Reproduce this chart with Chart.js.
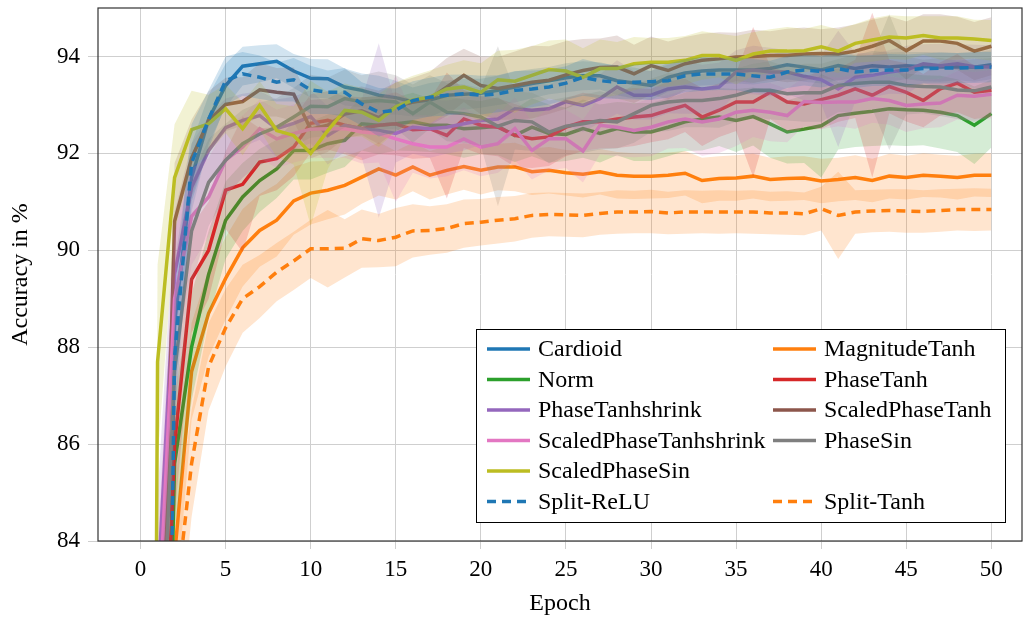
<!DOCTYPE html>
<html>
<head>
<meta charset="utf-8">
<script src="https://cdn.jsdelivr.net/npm/chart.js@4.4.0/dist/chart.umd.min.js"></script>
<style>
  html, body { margin: 0; padding: 0; background: #fff; }
</style>
</head>
<body>
<canvas id="accuracyChart" width="1027" height="620"></canvas>
<script>
const epochs = [
  0, 1, 2, 3, 4, 5, 6, 7, 8, 9, 10,
  11, 12, 13, 14, 15, 16, 17, 18, 19, 20,
  21, 22, 23, 24, 25, 26, 27, 28, 29, 30,
  31, 32, 33, 34, 35, 36, 37, 38, 39, 40,
  41, 42, 43, 44, 45, 46, 47, 48, 49, 50,
];

const cardioid = [
  30, 66, 88.5, 91.5, 92.7, 93.4, 93.8, 93.85, 93.9, 93.7, 93.55,
  93.54, 93.37, 93.3, 93.2, 93.15, 93.06, 93.1, 93.2, 93.22, 93.24,
  93.3, 93.37, 93.44, 93.5, 93.56, 93.6, 93.6, 93.5, 93.45, 93.4,
  93.57, 93.66, 93.7, 93.72, 93.72, 93.72, 93.75, 93.83, 93.78, 93.72,
  93.81, 93.75, 93.81, 93.78, 93.81, 93.79, 93.78, 93.79, 93.78, 93.83,
];
const cardioidStd = [
  0, 2, 1.2, 0.7, 0.5, 0.45, 0.4, 0.38, 0.35, 0.35, 0.4,
  0.4, 0.38, 0.35, 0.4, 0.35, 0.3, 0.35, 0.3, 0.32, 0.3,
  0.3, 0.32, 0.3, 0.28, 0.3, 0.3, 0.28, 0.3, 0.32, 0.3,
  0.3, 0.28, 0.3, 0.3, 0.28, 0.3, 0.28, 0.3, 0.3, 0.28,
  0.3, 0.28, 0.3, 0.3, 0.28, 0.3, 0.3, 0.28, 0.3, 0.3,
];

const magnitudeTanh = [
  18, 68, 83.7, 87.5, 88.7, 89.42, 90.05, 90.41, 90.62, 91.02, 91.18,
  91.24, 91.34, 91.51, 91.68, 91.55, 91.72, 91.55, 91.65, 91.73, 91.65,
  91.72, 91.72, 91.62, 91.65, 91.6, 91.57, 91.62, 91.55, 91.53, 91.53,
  91.55, 91.59, 91.44, 91.48, 91.49, 91.53, 91.46, 91.48, 91.49, 91.43,
  91.46, 91.5, 91.44, 91.53, 91.5, 91.55, 91.53, 91.5, 91.55, 91.55,
];
const magnitudeTanhStd = [
  0, 2, 1.3, 1.0, 0.9, 0.85, 0.8, 0.75, 0.75, 0.7, 0.65,
  0.6, 0.6, 0.55, 0.55, 0.5, 0.5, 0.5, 0.5, 0.48, 0.5,
  0.48, 0.5, 0.48, 0.48, 0.47, 0.48, 0.47, 0.48, 0.47, 0.46,
  0.47, 0.46, 0.47, 0.46, 0.47, 0.46, 0.45, 0.46, 0.45, 0.46,
  0.45, 0.46, 0.45, 0.46, 0.45, 0.45, 0.44, 0.45, 0.44, 0.45,
];

const norm = [
  20, 70, 85.6, 88.0, 89.5, 90.62, 91.1, 91.44, 91.68, 92.06, 92.06,
  92.2, 92.27, 92.61, 92.58, 92.61, 92.65, 92.58, 92.58, 92.51, 92.53,
  92.56, 92.37, 92.54, 92.41, 92.39, 92.51, 92.41, 92.51, 92.44, 92.44,
  92.54, 92.65, 92.71, 92.75, 92.68, 92.76, 92.61, 92.44, 92.5, 92.57,
  92.78, 92.83, 92.87, 92.92, 92.9, 92.89, 92.85, 92.78, 92.58, 92.82,
];
const normStd = [
  0, 2, 1.4, 1.1, 0.9, 0.8, 0.7, 0.65, 0.6, 0.6, 0.6,
  0.6, 0.55, 0.55, 0.6, 0.55, 0.6, 0.55, 0.6, 0.6, 0.55,
  0.6, 0.55, 0.6, 0.6, 0.55, 0.6, 0.6, 0.55, 0.6, 0.6,
  0.6, 0.6, 0.65, 0.6, 0.65, 0.6, 0.7, 0.65, 0.7, 1.07,
  0.7, 0.7, 0.72, 0.75, 0.75, 0.72, 0.75, 0.75, 0.8, 0.7,
];

const phaseTanh = [
  23, 77.3, 86, 89.4, 90.0, 91.24, 91.36, 91.82, 91.89, 92.13, 92.62,
  92.68, 92.58, 92.51, 92.58, 92.61, 92.49, 92.51, 92.37, 92.71, 92.58,
  92.54, 92.37, 92.3, 92.34, 92.54, 92.65, 92.65, 92.71, 92.75, 92.78,
  92.89, 92.99, 92.75, 92.89, 93.06, 93.06, 93.26, 93.06, 93.02, 93.11,
  93.2, 93.33, 93.2, 93.38, 93.26, 93.09, 93.33, 93.45, 93.26, 93.3,
];
const phaseTanhStd = [
  0, 2, 1.5, 1.1, 1.0, 0.8, 1.4, 0.7, 0.65, 0.6, 0.6,
  0.6, 0.6, 0.65, 0.6, 0.65, 0.6, 0.6, 1.3, 0.6, 0.6,
  0.6, 0.65, 0.6, 0.6, 0.6, 0.6, 0.55, 0.6, 0.6, 0.55,
  0.6, 0.55, 0.6, 0.55, 0.6, 1.55, 0.55, 0.6, 0.55, 0.6,
  0.55, 0.6, 1.7, 0.55, 0.6, 0.55, 0.55, 0.6, 0.55, 0.55,
];

const phaseTanhshrink = [
  28, 82.9, 89.5, 91.3, 92.06, 92.53, 92.68, 92.78, 92.51, 92.62, 92.76,
  92.37, 92.58, 92.51, 92.47, 92.41, 92.54, 92.51, 92.54, 92.61, 92.68,
  92.71, 92.92, 92.89, 92.92, 93.07, 92.99, 93.13, 93.37, 93.2, 93.2,
  93.33, 93.37, 93.33, 93.37, 93.68, 93.72, 93.68, 93.68, 93.59, 93.52,
  93.33, 93.57, 93.61, 93.68, 93.72, 93.85, 93.81, 93.85, 93.79, 93.78,
];
const phaseTanhshrinkStd = [
  0, 2, 1.3, 0.9, 0.7, 0.6, 0.55, 0.5, 0.6, 0.55, 0.55,
  0.6, 0.55, 0.6, 1.8, 0.6, 0.55, 0.6, 0.55, 0.55, 0.5,
  0.55, 0.5, 0.55, 0.5, 0.5, 0.55, 0.5, 0.55, 0.5, 0.5,
  0.5, 0.55, 0.5, 0.5, 0.45, 0.5, 0.5, 0.45, 0.5, 0.5,
  1.2, 0.5, 0.45, 0.45, 0.5, 0.4, 0.45, 0.4, 0.45, 0.45,
];

const scaledPhaseTanh = [
  22, 78, 90.6, 91.9, 92.68, 93.01, 93.07, 93.31, 93.26, 93.22, 92.5,
  92.58, 92.81, 92.88, 92.74, 92.96, 93.06, 93.13, 93.37, 93.61, 93.4,
  93.34, 93.4, 93.47, 93.51, 93.62, 93.71, 93.77, 93.78, 93.64, 93.81,
  93.71, 93.85, 93.92, 93.95, 93.99, 94.0, 94.02, 94.02, 94.05, 94.06,
  94.05, 94.11, 94.21, 94.33, 94.12, 94.32, 94.32, 94.27, 94.11, 94.21,
];
const scaledPhaseTanhStd = [
  0, 2, 1.2, 0.8, 0.6, 0.55, 0.5, 0.55, 0.5, 0.55, 0.6,
  0.55, 0.5, 0.5, 0.55, 0.5, 0.5, 0.55, 0.6, 0.55, 0.6,
  0.65, 0.7, 0.75, 0.7, 0.7, 0.65, 0.6, 0.65, 0.6, 0.6,
  0.6, 0.55, 0.55, 0.55, 0.5, 0.55, 0.5, 0.55, 0.55, 0.5,
  0.55, 0.55, 0.55, 0.5, 0.6, 0.55, 0.55, 0.55, 0.6, 0.6,
];

const scaledPhaseTanhshrink = [
  27, 81.9, 89.0, 90.7, 91.1, 91.86, 92.13, 92.51, 92.3, 92.41, 92.5,
  92.51, 92.51, 92.44, 92.41, 92.3, 92.2, 92.13, 92.13, 92.3, 92.13,
  92.2, 92.51, 92.06, 92.3, 92.3, 92.05, 92.58, 92.54, 92.47, 92.54,
  92.65, 92.71, 92.65, 92.71, 92.85, 92.89, 92.85, 92.78, 93.07, 93.05,
  93.06, 93.06, 93.13, 93.09, 92.99, 93.02, 93.04, 93.2, 93.18, 93.22,
];
const scaledPhaseTanhshrinkStd = [
  0, 2, 1.4, 1.0, 0.8, 0.7, 0.65, 0.6, 0.6, 0.6, 0.6,
  0.6, 0.6, 0.65, 0.6, 1.3, 0.6, 0.65, 0.6, 0.65, 0.6,
  0.6, 0.65, 0.6, 0.65, 0.6, 0.65, 0.6, 0.6, 0.55, 0.6,
  0.55, 0.6, 0.7, 0.7, 0.7, 0.55, 0.6, 0.55, 0.5, 0.55,
  0.5, 0.55, 0.5, 0.5, 0.55, 0.5, 0.5, 0.5, 0.5, 0.5,
];

const phaseSin = [
  24, 79.5, 87.5, 90.4, 91.4, 91.86, 92.2, 92.4, 92.54, 92.75, 92.97,
  92.96, 93.13, 93.06, 93.09, 93.06, 92.82, 93.06, 92.85, 92.82, 92.75,
  92.56, 92.68, 92.65, 92.44, 92.56, 92.61, 92.68, 92.65, 92.82, 92.99,
  93.06, 93.09, 93.09, 93.13, 93.2, 93.3, 93.3, 93.23, 93.25, 93.25,
  93.4, 93.44, 93.47, 93.47, 93.4, 93.38, 93.37, 93.31, 93.29, 93.37,
];
const phaseSinStd = [
  0, 2, 1.5, 1.1, 0.9, 0.75, 0.7, 0.65, 0.6, 0.6, 0.65,
  0.6, 0.6, 0.55, 0.6, 0.55, 0.6, 0.55, 0.6, 0.6, 0.6,
  1.65, 0.6, 0.6, 0.65, 0.6, 0.6, 0.6, 0.55, 0.6, 0.55,
  0.6, 0.55, 0.55, 0.6, 0.55, 0.55, 0.6, 0.55, 0.6, 0.6,
  0.55, 0.6, 0.55, 1.4, 0.6, 0.55, 0.6, 0.6, 0.65, 0.6,
];

const scaledPhaseSin = [
  26, 87.7, 91.5, 92.49, 92.61, 92.92, 92.51, 92.99, 92.47, 92.37, 92.0,
  92.47, 92.89, 92.85, 92.68, 92.96, 93.1, 93.16, 93.33, 93.37, 93.26,
  93.52, 93.49, 93.61, 93.73, 93.7, 93.57, 93.75, 93.75, 93.85, 93.88,
  93.88, 93.92, 94.02, 94.02, 93.92, 94.05, 94.11, 94.11, 94.12, 94.2,
  94.11, 94.27, 94.34, 94.4, 94.38, 94.43, 94.38, 94.38, 94.36, 94.33,
];
const scaledPhaseSinStd = [
  0, 2, 1.1, 0.8, 0.6, 0.5, 0.55, 0.5, 0.55, 0.6, 1.5,
  0.8, 0.55, 0.5, 0.55, 0.5, 0.5, 0.55, 0.5, 0.55, 0.6,
  0.6, 0.65, 0.6, 0.6, 0.65, 0.6, 0.6, 0.55, 0.55, 0.5,
  0.5, 0.5, 0.5, 0.45, 0.5, 0.45, 0.45, 0.5, 0.45, 0.45,
  0.45, 0.4, 0.45, 0.45, 0.45, 0.4, 0.45, 0.45, 0.4, 0.42,
];

const splitReLU = [
  25, 62, 87.8, 91.8, 92.7, 93.5, 93.64, 93.57, 93.47, 93.52, 93.31,
  93.26, 93.26, 93.02, 92.85, 92.89, 93.09, 93.16, 93.2, 93.23, 93.2,
  93.23, 93.3, 93.33, 93.37, 93.45, 93.57, 93.5, 93.47, 93.47, 93.48,
  93.5, 93.6, 93.64, 93.64, 93.64, 93.6, 93.57, 93.68, 93.72, 93.69,
  93.75, 93.68, 93.71, 93.72, 93.72, 93.75, 93.76, 93.76, 93.77, 93.78,
];
const splitReLUStd = [
  0, 2, 1.3, 0.8, 0.6, 0.5, 0.45, 0.45, 0.4, 0.45, 0.5,
  0.45, 0.5, 0.45, 0.5, 0.45, 0.4, 0.4, 0.42, 0.4, 0.4,
  0.38, 0.4, 0.38, 0.36, 0.35, 0.38, 0.36, 0.35, 0.36, 0.38,
  0.35, 0.34, 0.35, 0.33, 0.34, 0.35, 0.34, 0.33, 0.32, 0.33,
  0.32, 0.33, 0.32, 0.33, 0.32, 0.31, 0.32, 0.31, 0.32, 0.31,
];

const splitTanh = [
  15, 60, 82.5, 85.6, 87.6, 88.4, 89.0, 89.25, 89.55, 89.78, 90.03,
  90.03, 90.04, 90.24, 90.2, 90.27, 90.4, 90.41, 90.45, 90.55, 90.58,
  90.62, 90.65, 90.72, 90.74, 90.73, 90.72, 90.76, 90.79, 90.79, 90.8,
  90.77, 90.79, 90.79, 90.79, 90.79, 90.79, 90.77, 90.77, 90.75, 90.86,
  90.72, 90.79, 90.81, 90.82, 90.81, 90.8, 90.82, 90.84, 90.84, 90.84,
];
const splitTanhStd = [
  0, 2, 1.5, 1.1, 0.9, 0.8, 0.7, 0.65, 0.6, 0.6, 0.6,
  0.8, 0.6, 0.6, 0.55, 0.6, 0.55, 0.5, 0.5, 0.5, 0.48,
  0.48, 0.47, 0.46, 0.45, 0.45, 0.45, 0.44, 0.45, 0.44, 0.45,
  0.44, 0.45, 0.44, 0.45, 0.44, 0.45, 0.44, 0.45, 0.44, 0.45,
  0.9, 0.45, 0.44, 0.44, 0.45, 0.44, 0.44, 0.43, 0.44, 0.43,
];

// drawing order = order of this list (first at the bottom)
const series = [
  { name: "Cardioid", mean: cardioid, std: cardioidStd, color: "31,119,180", dashed: false },
  { name: "MagnitudeTanh", mean: magnitudeTanh, std: magnitudeTanhStd, color: "255,127,14", dashed: false },
  { name: "Norm", mean: norm, std: normStd, color: "44,160,44", dashed: false },
  { name: "PhaseTanh", mean: phaseTanh, std: phaseTanhStd, color: "214,39,40", dashed: false },
  { name: "PhaseTanhshrink", mean: phaseTanhshrink, std: phaseTanhshrinkStd, color: "148,103,189", dashed: false },
  { name: "ScaledPhaseTanh", mean: scaledPhaseTanh, std: scaledPhaseTanhStd, color: "140,86,75", dashed: false },
  { name: "ScaledPhaseTanhshrink", mean: scaledPhaseTanhshrink, std: scaledPhaseTanhshrinkStd, color: "227,119,194", dashed: false },
  { name: "PhaseSin", mean: phaseSin, std: phaseSinStd, color: "127,127,127", dashed: false },
  { name: "ScaledPhaseSin", mean: scaledPhaseSin, std: scaledPhaseSinStd, color: "188,189,34", dashed: false },
  { name: "Split-ReLU", mean: splitReLU, std: splitReLUStd, color: "31,119,180", dashed: true },
  { name: "Split-Tanh", mean: splitTanh, std: splitTanhStd, color: "255,127,14", dashed: true },
];

// legend slots, two columns, row by row (null = empty slot)
const legendOrder = [
  "Cardioid", "MagnitudeTanh",
  "Norm", "PhaseTanh",
  "PhaseTanhshrink", "ScaledPhaseTanh",
  "ScaledPhaseTanhshrink", "PhaseSin",
  "ScaledPhaseSin", null,
  "Split-ReLU", "Split-Tanh",
];

const FONT = "'Liberation Serif', 'Times New Roman', serif";
const DASH = [9, 6];

function points(values) {
  return epochs.map((e, i) => ({ x: e, y: values[i] }));
}

const datasets = [];
series.forEach((s) => {
  const upper = s.mean.map((v, i) => v + s.std[i]);
  const lower = s.mean.map((v, i) => v - s.std[i]);
  datasets.push({
    label: s.name + " upper",
    data: points(upper),
    borderWidth: 0,
    borderColor: "rgba(0,0,0,0)",
    pointRadius: 0,
    fill: false,
  });
  datasets.push({
    label: s.name + " lower",
    data: points(lower),
    borderWidth: 0,
    borderColor: "rgba(0,0,0,0)",
    backgroundColor: `rgba(${s.color},0.2)`,
    pointRadius: 0,
    fill: "-1",
  });
  datasets.push({
    label: s.name,
    data: points(s.mean),
    borderColor: `rgb(${s.color})`,
    borderWidth: 3.5,
    borderDash: s.dashed ? DASH : [],
    pointRadius: 0,
    fill: false,
  });
});
datasets.forEach((d, i) => (d.order = -i));

const frame = {
  id: "frame",
  afterDatasetsDraw(chart) {
    const { ctx, chartArea: a } = chart;
    ctx.save();
    ctx.strokeStyle = "#333";
    ctx.lineWidth = 1.2;
    ctx.strokeRect(a.left, a.top, a.right - a.left, a.bottom - a.top);
    ctx.restore();
  },
};

const legendBox = {
  id: "legendBox",
  afterDraw(chart) {
    const ctx = chart.ctx;
    ctx.save();
    ctx.fillStyle = "#fff";
    ctx.fillRect(476, 329, 529, 193);
    ctx.strokeStyle = "#000";
    ctx.lineWidth = 1;
    ctx.strokeRect(476.5, 329.5, 529, 193);
    ctx.font = "24px " + FONT;
    ctx.textBaseline = "middle";
    legendOrder.forEach((name, i) => {
      if (!name) return;
      const s = series.find((item) => item.name === name);
      const x = i % 2 ? 773 : 487;
      const y = 349 + Math.floor(i / 2) * 30.5;
      ctx.strokeStyle = `rgb(${s.color})`;
      ctx.lineWidth = 3.5;
      ctx.setLineDash(s.dashed ? DASH : []);
      ctx.beginPath();
      ctx.moveTo(x, y);
      ctx.lineTo(x + 43, y);
      ctx.stroke();
      ctx.fillStyle = "#000";
      ctx.fillText(name, x + 51, y + 1);
    });
    ctx.restore();
  },
};

// fixed plot box: left 98, right 1022, top 8, bottom 541
function noPadding(scale) {
  scale.paddingTop = 0;
  scale.paddingBottom = 0;
  scale.paddingLeft = 0;
  scale.paddingRight = 0;
}

const ctx = document.getElementById("accuracyChart").getContext("2d");
const accuracyChart = new Chart(ctx, {
  type: "line",
  data: { datasets: datasets },
  options: {
    responsive: false,
    animation: false,
    devicePixelRatio: 1,
    layout: { padding: { top: 8, right: 5, left: 0, bottom: 0 } },
    elements: { line: { tension: 0 } },
    plugins: {
      legend: { display: false },
      tooltip: { enabled: false },
      filler: { propagate: false },
    },
    scales: {
      x: {
        type: "linear",
        min: -2.5,
        max: 51.8,
        afterFit: (scale) => { scale.height = 79; noPadding(scale); },
        ticks: {
          stepSize: 5,
          includeBounds: false,
          color: "#000",
          padding: 7,
          maxRotation: 0,
          font: { family: FONT, size: 23 },
        },
        grid: { color: "#cfcfcf", lineWidth: 1, tickLength: 8 },
        border: { display: false },
        title: {
          display: true,
          text: "Epoch",
          color: "#000",
          font: { family: FONT, size: 24 },
          padding: { top: 0, bottom: 2 },
        },
      },
      y: {
        min: 84,
        max: 95,
        afterFit: (scale) => { scale.width = 98; noPadding(scale); },
        ticks: {
          stepSize: 2,
          includeBounds: false,
          color: "#000",
          padding: 8,
          font: { family: FONT, size: 23 },
        },
        grid: { color: "#cfcfcf", lineWidth: 1, tickLength: 10 },
        border: { display: false },
        title: {
          display: true,
          text: "Accuracy in %",
          color: "#000",
          font: { family: FONT, size: 24 },
          padding: { top: 6, bottom: 0 },
        },
      },
    },
  },
  plugins: [frame, legendBox],
});
</script>
</body>
</html>
